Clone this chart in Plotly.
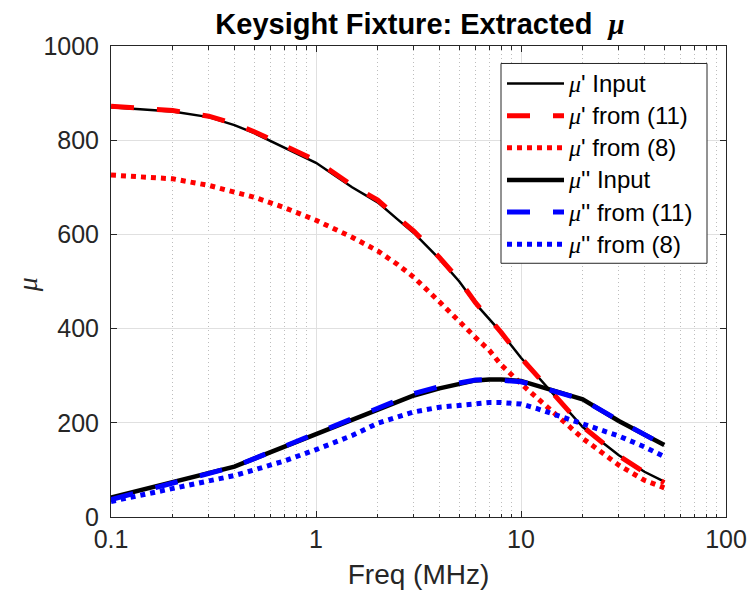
import plotly.graph_objects as go

# ---------------- data ----------------
freq_mhz = [0.1, 0.2, 0.3, 0.4, 0.5, 0.7, 1, 1.5, 2, 2.5, 3, 4, 5, 6, 7, 8, 10, 12, 15, 20, 30, 40, 50]

mu1_input = [870, 861, 849, 832, 815, 784, 752, 700, 668, 632, 603, 548, 500, 453, 420, 392, 338, 299, 251, 191, 131, 96, 75]
mu1_eq11 = [872, 863, 851, 835, 818, 788, 757, 704, 673, 636, 607, 551, 503, 455, 421, 392, 338, 300, 251, 192, 130, 95, 73]
mu1_eq8 = [726, 718, 704, 691, 679, 657, 630, 594, 565, 536, 509, 457, 414, 381, 354, 323, 283, 252, 214, 167, 110, 78, 62]

mu2_input = [41, 75, 94, 107, 124, 149, 175, 206, 229, 245, 258, 273, 283, 290, 292, 292, 289, 279, 267, 250, 204, 174, 153]
mu2_eq11 = [37, 73, 93, 107, 124, 150, 177, 209, 233, 249, 262, 277, 286, 291, 292, 291, 287, 278, 266, 249, 205, 175, 152]
mu2_eq8 = [33, 61, 78, 88, 100, 119, 143, 173, 199, 211, 223, 233, 237, 241, 243, 243, 240, 230, 216, 200, 172, 149, 128]

legend_labels = ["μ' Input", "μ' from (11)", "μ' from (8)",
                 "μ'' Input", "μ'' from (11)", "μ'' from (8)"]

x_tick_vals = [0.1, 1, 10, 100]
x_tick_text = ["0.1", "1", "10", "100"]
y_tick_vals = [0, 200, 400, 600, 800, 1000]

# ---------------- styles ----------------
DASH = "23px,23px"
DOT = "5px,5px"
styles = [
    dict(color="#000000", width=2.5, dash="solid"),
    dict(color="#ff0000", width=5, dash=DASH),
    dict(color="#ff0000", width=5, dash=DOT),
    dict(color="#000000", width=4.5, dash="solid"),
    dict(color="#0000ff", width=5, dash=DASH),
    dict(color="#0000ff", width=5, dash=DOT),
]
series = [mu1_input, mu1_eq11, mu1_eq8, mu2_input, mu2_eq11, mu2_eq8]

AX = "#262626"
SANS = "Liberation Sans, Arial, sans-serif"
SERIF = "Liberation Serif, DejaVu Serif, serif"

fig = go.Figure()
for vals, st, name in zip(series, styles, legend_labels):
    fig.add_trace(go.Scatter(x=freq_mhz, y=vals, mode="lines", name=name,
                             line=dict(color=st["color"], width=st["width"], dash=st["dash"]),
                             showlegend=False, hoverinfo="skip"))

# plot area in pixels: x 111..726, y 45.5..517
W, H = 751, 604
L, R, T, B = 111, 726, 45.5, 517


def px(x):
    return (x - L) / (R - L)


def py(y):
    return (B - y) / (B - T)


shapes = []
annotations = []
# legend frame
shapes.append(dict(type="rect", xref="paper", yref="paper",
                   x0=px(501), x1=px(707), y0=py(263), y1=py(63),
                   line=dict(color=AX, width=1), fillcolor="white", layer="above"))
row_y0, row_dy = 83, 32.2
for i, (st, name) in enumerate(zip(styles, legend_labels)):
    yy = row_y0 + i * row_dy
    shapes.append(dict(type="line", xref="paper", yref="paper",
                       x0=px(507), x1=px(564), y0=py(yy), y1=py(yy),
                       line=dict(color=st["color"], width=st["width"], dash=st["dash"]),
                       layer="above"))
    rest = name[1:]
    annotations.append(dict(
        xref="paper", yref="paper", x=px(566), y=py(yy), xanchor="left", yanchor="middle",
        showarrow=False,
        text=f"<span style='font-family:{SERIF}'><i>μ</i></span>{rest}",
        font=dict(family=SANS, size=24, color="#000000")))

# y-axis title (mu)
annotations.append(dict(xref="paper", yref="paper", x=px(27), y=py(285),
                        xanchor="center", yanchor="middle", showarrow=False, textangle=-90,
                        text="<i>μ</i>", font=dict(family=SERIF, size=28, color=AX)))

fig.update_layout(
    width=W, height=H,
    margin=dict(l=L, r=W - R, t=T, b=H - B, pad=0, autoexpand=False),
    paper_bgcolor="white", plot_bgcolor="white",
    showlegend=False,
    title=dict(text=f"<b>Keysight Fixture: Extracted  <span style='font-family:{SERIF}'><i>μ</i></span></b>",
               x=px(420), xref="paper", xanchor="center",
               y=1 - 24 / H, yref="container", yanchor="middle", automargin=False,
               font=dict(family=SANS, size=29, color="#000000")),
    shapes=shapes, annotations=annotations,
    font=dict(family=SANS, color=AX),
)

fig.update_xaxes(
    type="log", range=[-1, 2], automargin=False,
    tickmode="array", tickvals=x_tick_vals, ticktext=x_tick_text,
    ticks="inside", ticklen=6, tickcolor=AX, tickwidth=1,
    showline=True, linecolor=AX, linewidth=1, mirror="allticks",
    showgrid=True, gridcolor="#e0e0e0", gridwidth=1,
    minor=dict(dtick="D1", ticks="inside", ticklen=3.5, tickcolor=AX,
               showgrid=True, gridcolor="#bdbdbd", griddash="1px,3px", gridwidth=1),
    tickfont=dict(family=SANS, size=25, color=AX),
    title=dict(text="Freq (MHz)", font=dict(family=SANS, size=28, color=AX), standoff=12),
    zeroline=False,
)
fig.update_yaxes(
    range=[0, 1000], tickmode="array", tickvals=y_tick_vals, automargin=False,
    ticks="inside", ticklen=6, tickcolor=AX, tickwidth=1,
    showline=True, linecolor=AX, linewidth=1, mirror="allticks",
    showgrid=True, gridcolor="#e0e0e0", gridwidth=1,
    tickfont=dict(family=SANS, size=25, color=AX),
    zeroline=False, ticklabelstandoff=6,
)

fig.write_html("out.html", config={"displayModeBar": False},
               post_script="document.body.style.margin='0';")
